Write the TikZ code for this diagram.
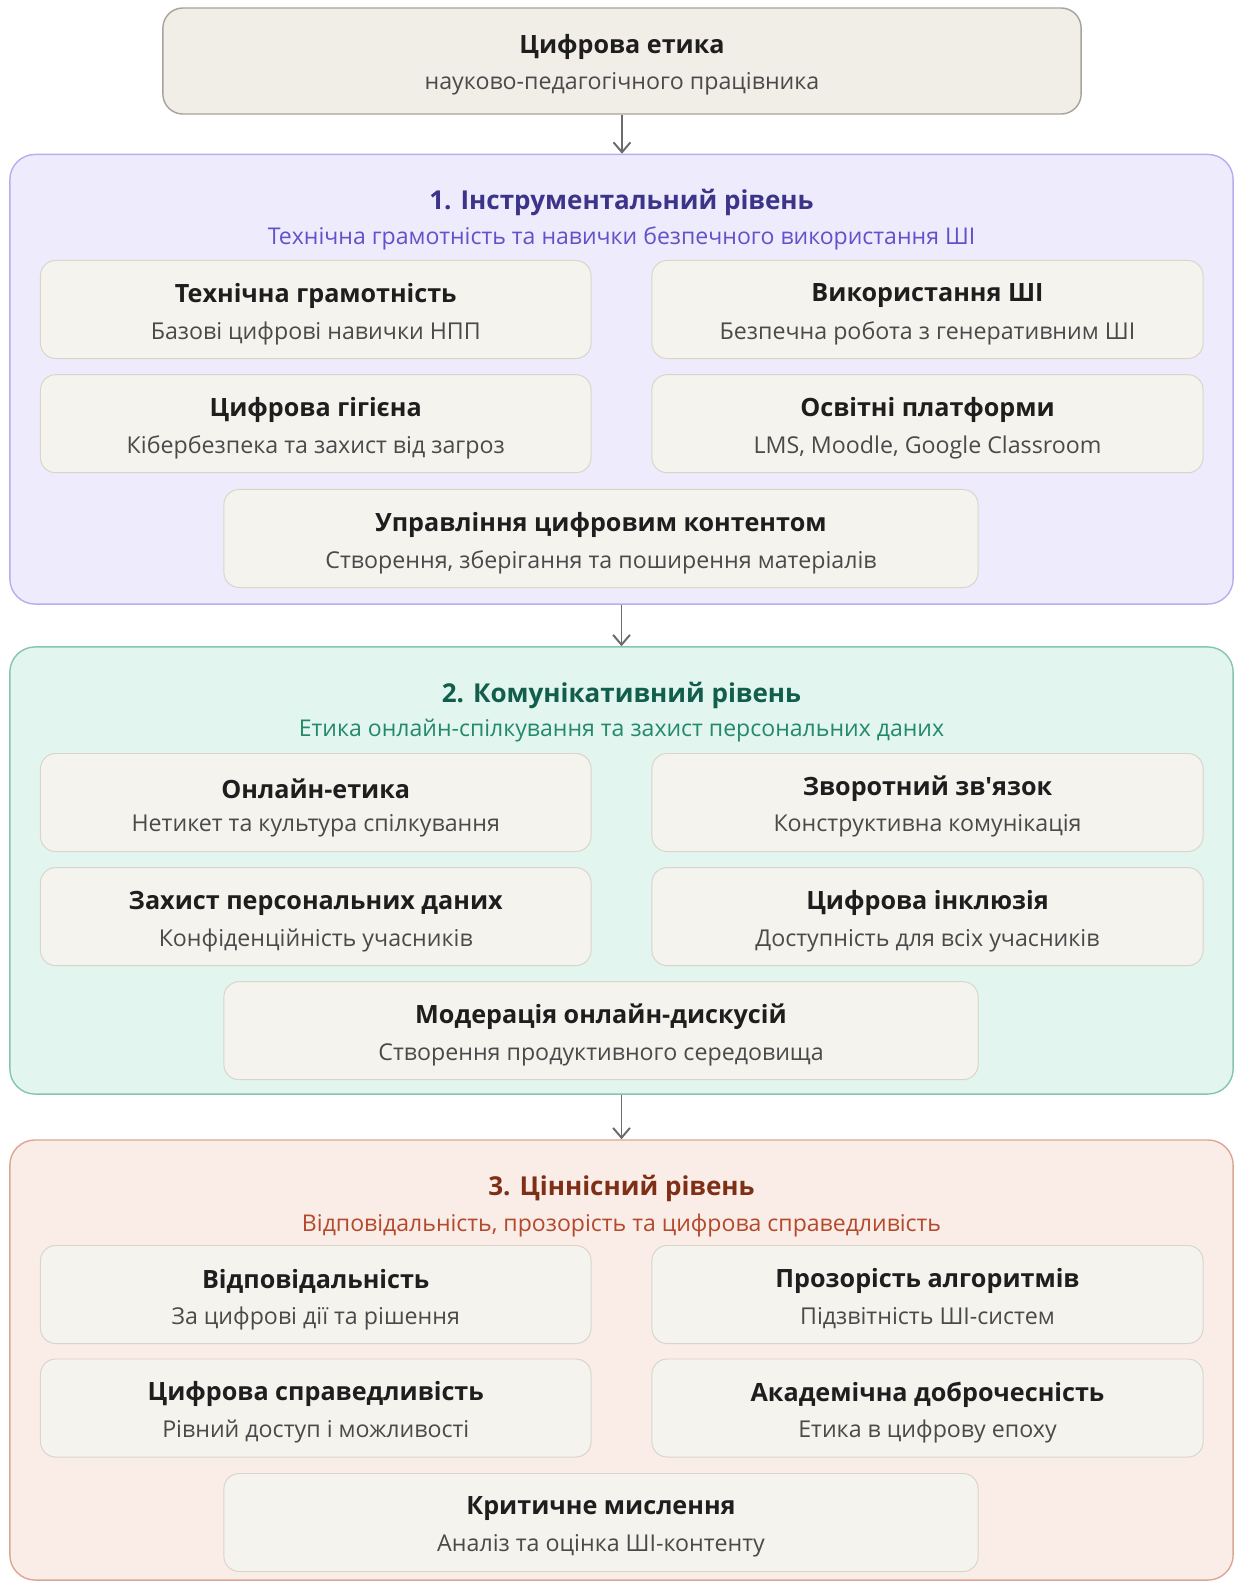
\documentclass[tikz,border=0pt]{standalone}
\usepackage{fontspec}
\setmainfont{Open Sans}[Ligatures=TeXOff]
\usepackage{tikz}
\usetikzlibrary{arrows.meta}

\definecolor{topfill}{HTML}{F1EEE8}
\definecolor{topdraw}{HTML}{A8A29A}
\definecolor{cellfill}{HTML}{F5F3EE}
\definecolor{celldraw}{HTML}{D9D5CB}
\definecolor{gonefill}{HTML}{EEEBFD}
\definecolor{gonedraw}{HTML}{B6AEEE}
\definecolor{gonetitle}{HTML}{3C3489}
\definecolor{gonesub}{HTML}{6152C9}
\definecolor{gtwofill}{HTML}{E2F5EF}
\definecolor{gtwodraw}{HTML}{86C5AE}
\definecolor{gtwotitle}{HTML}{125E4C}
\definecolor{gtwosub}{HTML}{23896B}
\definecolor{gthreefill}{HTML}{FAEDE8}
\definecolor{gthreedraw}{HTML}{DCA696}
\definecolor{gthreetitle}{HTML}{7F2F16}
\definecolor{gthreesub}{HTML}{B4492B}
\definecolor{maintext}{HTML}{1E1E1E}
\definecolor{subtext}{HTML}{4A4A4A}
\definecolor{arrowgray}{HTML}{6B6B6B}

\tikzset{
  groupbox/.style={rounded corners=0.63cm, line width=1pt, minimum width=30.575cm, inner sep=0pt},
  cellbox/.style={rounded corners=0.38cm, fill=cellfill, draw=celldraw, line width=0.7pt, minimum height=2.45cm, inner sep=0pt},
  celltitle/.style={font=\fontsize{17.9}{21}\selectfont\bfseries, text=maintext, inner sep=0pt},
  cellsub/.style={font=\fontsize{16.5}{19}\selectfont, text=subtext, inner sep=0pt},
  grouptitle/.style={font=\fontsize{18.5}{22}\selectfont\bfseries, inner sep=0pt},
  groupsub/.style={font=\fontsize{16.4}{19}\selectfont, inner sep=0pt},
  flowarrow/.style={draw=arrowgray, line width=1.4pt, -{Straight Barb[length=7pt, width=12pt, line width=1.4pt]}}
}

% name, x, y, width, title, subtitle
\newcommand{\cell}[6]{%
  \node[cellbox, minimum width=#4] (#1) at (#2,#3) {};
  \node[celltitle] (#1-t) at (#2,{#3-13.6}) {#5};
  \node[cellsub] (#1-s) at (#2,{#3+23.7}) {#6};
}

\begin{document}
\begin{tikzpicture}[x=0.025cm, y=-0.025cm]
            \useasboundingbox (0,0) rectangle (1237,1582);

            % Top box
            \node[rounded corners=0.5cm, fill=topfill, draw=topdraw, line width=1pt, minimum width=22.95cm, minimum height=2.65cm] (top) at (622,61) {};
            \node[celltitle] (top-t) at (622,46.5) {Цифрова етика};
            \node[cellsub] (top-s) at (622,84) {науково-педагогічного працівника};

            % Level 1
            \node[groupbox, fill=gonefill, draw=gonedraw, minimum height=11.2375cm] (g1) at (621.5,379.25) {};
            \node[grouptitle, text=gonetitle] (g1-t) at (621.5,202) {1. Інструментальний рівень};
            \node[groupsub, text=gonesub] (g1-s) at (621.5,238) {Технічна грамотність та навички безпечного використання ШІ};
            \cell{c11}{315.75}{309.5}{13.76cm}{Технічна грамотність}{Базові цифрові навички НПП}
            \cell{c12}{927.5}{309.5}{13.775cm}{Використання ШІ}{Безпечна робота з генеративним ШІ}
            \cell{c13}{315.75}{423.7}{13.76cm}{Цифрова гігієна}{Кібербезпека та захист від загроз}
            \cell{c14}{927.5}{423.7}{13.775cm}{Освітні платформи}{LMS, Moodle, Google Classroom}
            \cell{c15}{601}{538.5}{18.85cm}{Управління цифровим контентом}{Створення, зберігання та поширення матеріалів}

            % Level 2
            \node[groupbox, fill=gtwofill, draw=gtwodraw, minimum height=11.175cm] (g2) at (621.5,870.5) {};
            \node[grouptitle, text=gtwotitle] (g2-t) at (621.5,695) {2. Комунікативний рівень};
            \node[groupsub, text=gtwosub] (g2-s) at (621.5,731) {Етика онлайн-спілкування та захист персональних даних};
            \cell{c21}{315.75}{802.5}{13.76cm}{Онлайн-етика}{Нетикет та культура спілкування}
            \cell{c22}{927.5}{802.5}{13.775cm}{Зворотний зв'язок}{Конструктивна комунікація}
            \cell{c23}{315.75}{916.6}{13.76cm}{Захист персональних даних}{Конфіденційність учасників}
            \cell{c24}{927.5}{916.6}{13.775cm}{Цифрова інклюзія}{Доступність для всіх учасників}
            \cell{c25}{601}{1030.7}{18.85cm}{Модерація онлайн-дискусій}{Створення продуктивного середовища}

            % Level 3
            \node[groupbox, fill=gthreefill, draw=gthreedraw, minimum height=11cm] (g3) at (621.5,1360) {};
            \node[grouptitle, text=gthreetitle] (g3-t) at (621.5,1188) {3. Ціннісний рівень};
            \node[groupsub, text=gthreesub] (g3-s) at (621.5,1225) {Відповідальність, прозорість та цифрова справедливість};
            \cell{c31}{315.75}{1294.5}{13.76cm}{Відповідальність}{За цифрові дії та рішення}
            \cell{c32}{927.5}{1294.5}{13.775cm}{Прозорість алгоритмів}{Підзвітність ШІ-систем}
            \cell{c33}{315.75}{1408}{13.76cm}{Цифрова справедливість}{Рівний доступ і можливості}
            \cell{c34}{927.5}{1408}{13.775cm}{Академічна доброчесність}{Етика в цифрову епоху}
            \cell{c35}{601}{1522.5}{18.85cm}{Критичне мислення}{Аналіз та оцінка ШІ-контенту}

            % Arrows between levels
            \draw[flowarrow] (top.south) -- (top.south |- g1.north);
            \draw[flowarrow] (g1.south) -- (g2.north);
            \draw[flowarrow] (g2.south) -- (g3.north);
\end{tikzpicture}
\end{document}
